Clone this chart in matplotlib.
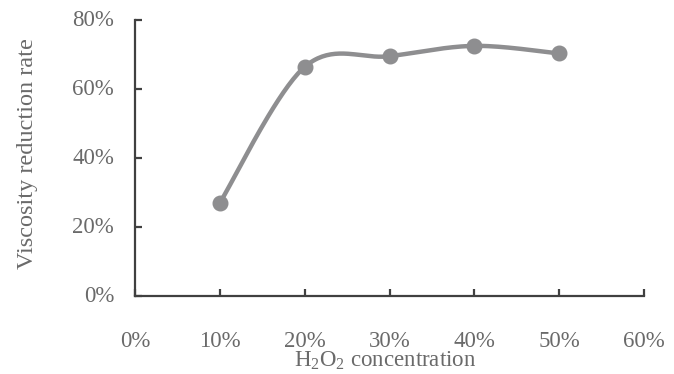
import numpy as np
import matplotlib
matplotlib.use("Agg")
import matplotlib.pyplot as plt
from matplotlib.ticker import FuncFormatter

concentration = [10, 20, 30, 40, 50]
reduction_rate = [27.0, 66.4, 69.5, 72.5, 70.3]
x_ticks = [0, 10, 20, 30, 40, 50, 60]
y_ticks = [0, 20, 40, 60, 80]

plt.rcParams['font.family'] = ['Liberation Serif', 'DejaVu Serif']
plt.rcParams['mathtext.fontset'] = 'custom'
plt.rcParams['mathtext.rm'] = 'Liberation Serif'
plt.rcParams['mathtext.it'] = 'Liberation Serif:italic'

def catmull_rom(xs, ys, n=40):
    pts = np.column_stack([xs, ys]).astype(float)
    P = np.vstack([pts[0], pts, pts[-1]])
    out = []
    for i in range(1, len(P) - 2):
        p0, p1, p2, p3 = P[i - 1], P[i], P[i + 1], P[i + 2]
        t = np.linspace(0, 1, n)[:, None]
        seg = 0.5 * ((2 * p1) + (-p0 + p2) * t + (2 * p0 - 5 * p1 + 4 * p2 - p3) * t ** 2
                     + (-p0 + 3 * p1 - 3 * p2 + p3) * t ** 3)
        out.append(seg)
    c = np.vstack(out)
    return c[:, 0], c[:, 1]

W, H = 674, 374
fig = plt.figure(figsize=(W / 100, H / 100), dpi=100)
ax = fig.add_axes([135 / W, 1 - 296 / H, (644 - 135) / W, (296 - 20) / H])

line_color = '#8e8e90'
cx, cy = catmull_rom(concentration, reduction_rate)
ax.plot(cx, cy, color=line_color, lw=3.2, solid_capstyle='round', zorder=2)
ax.plot(concentration, reduction_rate, 'o', color=line_color, ms=10.5, zorder=3)

ax.set_xlim(0, 60)
ax.set_ylim(0, 80)
ax.set_xticks(x_ticks)
ax.set_yticks(y_ticks)
fmt = FuncFormatter(lambda v, p: f"{int(v)}%")
ax.xaxis.set_major_formatter(fmt)
ax.yaxis.set_major_formatter(fmt)

for s in ['top', 'right']:
    ax.spines[s].set_visible(False)
for s in ['left', 'bottom']:
    ax.spines[s].set_color('#404040')
    ax.spines[s].set_linewidth(1.6)

text_color = '#6a6a6a'
ax.tick_params(axis='both', direction='in', length=5, width=1.6, color='#404040',
               labelsize=16.5, labelcolor=text_color)
ax.tick_params(axis='y', pad=15)
ax.tick_params(axis='x', pad=25)
for lab in ax.get_yticklabels():
    lab.set_va('center')

fig.text(28 / W, 1 - 154 / H, 'Viscosity reduction rate', rotation=90,
         ha='center', va='center', fontsize=17.5, color=text_color)
fig.text(385 / W, 1 - 367 / H, r'H$_{\mathrm{2}}$O$_{\mathrm{2}}$ concentration',
         ha='center', va='baseline', fontsize=16.5, color=text_color)

fig.savefig('out.png', dpi=100)
